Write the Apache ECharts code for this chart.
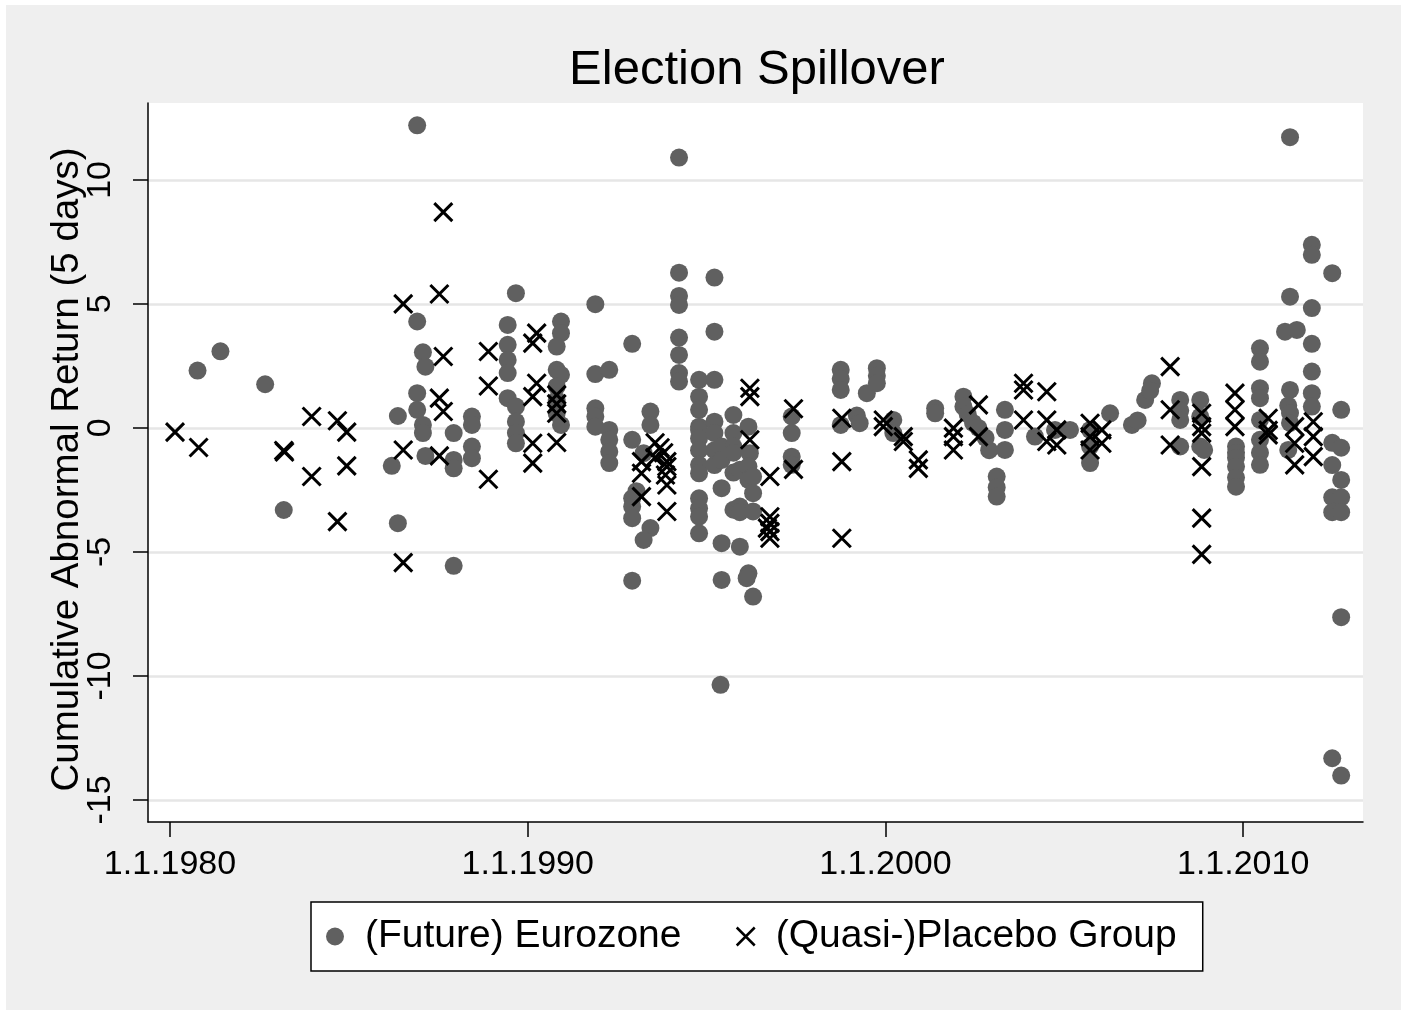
<!DOCTYPE html>
<html>
<head>
<meta charset="utf-8">
<script src="https://cdn.jsdelivr.net/npm/echarts@6/dist/echarts.min.js"></script>
<style>
  html, body { margin: 0; padding: 0; background: #ffffff; }
  #chart { position: absolute; left: 6px; top: 5px; width: 1395px; height: 1005px; }
</style>
</head>
<body>
<div id="chart"></div>
<script>
// ---- Data (decimal year of election, 5-day cumulative abnormal return) ----
const euroYear = [
  1980.77, 1981.41, 1982.66, 1983.18,
  1986.20, 1986.37, 1986.37, 1986.91, 1986.91, 1986.91, 1986.91, 1987.07, 1987.14, 1987.07, 1987.07, 1987.14,
  1987.93, 1987.93, 1987.93, 1987.93, 1988.44, 1988.44, 1988.44, 1988.44,
  1989.67, 1989.44, 1989.44, 1989.44, 1989.44, 1989.44, 1989.67, 1989.67, 1989.67, 1989.67,
  1990.93, 1990.93, 1990.81, 1990.81, 1990.93, 1990.81, 1990.81, 1990.81, 1990.93,
  1991.89, 1991.89, 1992.28, 1991.89, 1991.89, 1991.89, 1992.28, 1992.28, 1992.28, 1992.28,
  1992.92, 1992.92, 1992.92, 1992.92, 1992.92, 1992.92, 1993.43, 1993.43, 1993.24, 1993.43, 1993.24, 1993.04,
  1994.23, 1994.23, 1994.23, 1994.23, 1994.23, 1994.23, 1994.23, 1994.23,
  1995.22, 1995.22, 1995.22,
  1994.79, 1994.79, 1994.79, 1994.79, 1994.79, 1994.79, 1994.79, 1994.79, 1994.79, 1994.79, 1994.79, 1994.79, 1994.79,
  1995.22, 1995.22, 1995.22, 1995.22, 1995.42, 1995.42, 1995.42, 1995.42, 1995.42, 1995.39,
  1995.75, 1995.75, 1995.75, 1995.75, 1995.75, 1995.75, 1995.93, 1995.93, 1995.93, 1995.93,
  1996.17, 1996.21, 1996.17, 1996.17, 1996.30, 1996.30, 1996.30, 1996.17, 1996.12, 1996.30,
  1997.38, 1997.38, 1997.38, 1997.38,
  1998.75, 1998.75, 1998.75, 1998.75, 1999.20, 1999.28, 1999.48, 1999.76, 1999.76, 1999.76,
  2000.22, 2000.22, 2001.39, 2001.39,
  2002.18, 2002.18, 2002.30, 2002.45, 2002.60, 2002.80, 2002.90, 2003.11, 2003.11, 2003.11,
  2003.34, 2003.34, 2003.34, 2004.18, 2004.74, 2005.16,
  2005.72, 2005.72, 2005.72, 2006.28, 2006.89, 2007.05, 2007.26, 2007.45, 2007.40,
  2008.24, 2008.24, 2008.24, 2008.24, 2008.80, 2008.80, 2008.80, 2008.91,
  2009.80, 2009.80, 2009.80, 2009.80, 2009.80, 2009.80,
  2010.47, 2010.47, 2010.47, 2010.47, 2010.47, 2010.47, 2010.47, 2010.47,
  2011.31, 2011.31, 2011.17, 2011.50, 2011.31, 2011.26, 2011.31, 2011.31, 2011.26,
  2011.92, 2011.92, 2011.92, 2011.92, 2011.92, 2011.92, 2011.92,
  2012.49, 2012.74, 2012.49, 2012.74, 2012.49, 2012.74, 2012.49, 2012.74, 2012.49, 2012.74,
  2012.74, 2012.49, 2012.74
];
const euroCAR = [
  2.31, 3.09, 1.76, -3.31,
  -1.53, 0.48, -3.84, 12.2, 4.29, 1.40, 0.73, 3.05, 2.47, 0.12, -0.21, -1.13,
  -5.56, -0.21, -1.29, -1.63, 0.46, 0.12, -0.75, -1.22,
  5.43, 4.15, 3.35, 2.74, 2.21, 1.20, 0.86, 0.25, -0.21, -0.62,
  4.29, 3.82, 3.28, 2.34, 2.14, 1.67, 1.13, 0.59, 0.12,
  4.99, 2.17, 2.34, 0.79, 0.46, 0.05, -0.08, -0.48, -0.96, -1.42,
  3.39, -0.48, -2.84, -3.17, -3.64, -6.16, 0.66, 0.12, -1.02, -4.04, -4.52, -2.55,
  10.90, 6.26, 5.32, 4.96, 3.64, 2.94, 2.21, 1.87,
  6.06, 3.88, 1.94,
  1.94, 1.26, 0.73, 0.05, -0.08, -0.42, -0.90, -1.49, -1.83, -2.84, -3.24, -3.58, -4.25,
  0.25, -0.21, -0.90, -1.50, -0.75, -1.29, -2.43, -4.65, -6.13, -10.36,
  0.52, -0.21, -0.75, -1.00, -1.80, -3.30, -1.69, -3.17, -3.40, -4.79,
  0.05, -1.02, -1.55, -2.10, -1.96, -2.63, -3.37, -5.86, -6.06, -6.80,
  0.46, -0.21, -1.16, -1.49,
  2.34, 1.98, 1.53, 0.12, 0.50, 0.19, 1.40, 2.41, 2.10, 1.80,
  0.32, -0.21, 0.79, 0.59,
  1.26, 0.86, 0.55, 0.20, 0.00, -0.40, -0.90, -1.96, -2.40, -2.77,
  0.73, -0.08, -0.89, -0.35, -0.08, -0.08,
  -0.08, -0.75, -1.42, 0.59, 0.12, 0.30, 1.13, 1.80, 1.50,
  1.13, 0.70, 0.32, -0.75, 1.13, 0.46, -0.75, -0.89,
  -0.75, -1.00, -1.20, -1.56, -2.00, -2.37,
  3.21, 2.67, 1.60, 1.20, 0.32, -0.48, -1.00, -1.49,
  11.72, 5.29, 3.88, 3.95, 1.53, 0.90, 0.60, 0.20, -0.89,
  7.38, 6.98, 4.83, 3.39, 2.27, 1.40, 0.86,
  6.24, 0.73, -0.60, -0.80, -1.50, -2.10, -2.80, -2.80, -3.40, -3.40,
  -7.63, -13.32, -14.02
];
const placeboYear = [
  1980.14, 1980.80, 1983.18, 1983.20, 1983.96, 1983.96, 1984.68, 1984.94, 1984.94, 1984.68,
  1986.52, 1986.52, 1986.52, 1987.64, 1987.53, 1987.64, 1987.53, 1987.64, 1987.53,
  1988.90, 1988.90, 1988.90,
  1990.25, 1990.14, 1990.25, 1990.14, 1990.14, 1990.14, 1990.81, 1990.81, 1990.81, 1990.81,
  1993.56, 1993.70, 1993.80, 1993.56, 1993.18, 1993.89, 1993.89, 1993.85, 1993.18, 1993.89, 1993.18, 1993.89,
  1996.21, 1996.21, 1996.21, 1996.77, 1996.77, 1996.77, 1996.77, 1996.77, 1996.70,
  1997.43, 1997.43, 1998.78, 1998.78, 1998.78,
  1999.94, 1999.94, 2000.50, 2000.50, 2000.92, 2000.92, 2001.90, 2001.90, 2001.90, 2002.60, 2002.60,
  2003.86, 2003.86, 2003.86, 2004.51, 2004.51, 2004.51, 2004.79, 2004.79,
  2005.72, 2005.72, 2005.72, 2006.05, 2006.05,
  2007.96, 2007.96, 2007.96, 2008.84, 2008.84, 2008.84, 2008.84, 2008.84, 2008.84,
  2009.77, 2009.77, 2009.77, 2010.70, 2010.70, 2010.70,
  2011.44, 2011.44, 2011.44, 2011.96, 2011.96, 2011.96
];
const placeboCAR = [
  -0.17, -0.79, -0.91, -0.97, 0.46, -1.96, 0.29, -0.17, -1.53, -3.78,
  5.00, -0.89, -5.43, 8.70, 5.40, 2.88, 1.20, 0.66, -1.13,
  3.08, 1.69, -2.07,
  3.82, 3.42, 1.80, 1.26, -0.62, -1.42, 1.33, 0.97, 0.59, -0.59,
  -0.60, -0.80, -1.00, -1.20, -1.36, -1.36, -1.56, -1.90, -1.83, -2.30, -2.77, -3.37,
  1.60, 1.26, -0.48, -1.96, -3.58, -3.85, -4.18, -4.45, -4.04,
  0.77, -1.67, 0.39, -1.36, -4.45,
  0.32, 0.05, -0.35, -0.55, -1.29, -1.63, -0.01, -0.35, -0.89, 0.93, -0.35,
  1.80, 1.53, 0.32, 1.46, 0.32, -0.55, -0.08, -0.69,
  0.19, -0.35, -0.89, -0.08, -0.62,
  2.47, 0.73, -0.69, 0.59, 0.05, -0.21, -1.56, -3.64, -5.10,
  1.40, 0.73, 0.05, 0.39, -0.28, -0.10,
  0.05, -0.62, -1.49, 0.25, -0.35, -1.16
];
const xTickYears = [1980, 1990, 2000, 2010];
const yTickValues = [-15, -10, -5, 0, 5, 10];
const seriesNames = ['(Future) Eurozone', '(Quasi-)Placebo Group'];
const chartTitle = 'Election Spillover';
const yAxisTitle = 'Cumulative Abnormal Return (5 days)';

const zip = (xs, ys) => xs.map((x, i) => [x, ys[i]]);
const FONT = '"Liberation Sans", Arial, Helvetica, sans-serif';
const X_SYMBOL = 'path://M0,0L10,10M10,0L0,10';

const chart = echarts.init(document.getElementById('chart'), null, { renderer: 'canvas' });
chart.setOption({
  animation: false,
  backgroundColor: '#efefef',
  textStyle: { fontFamily: FONT, color: '#000' },
  graphic: [{
    type: 'text',
    x: 751, y: 65,
    style: { text: chartTitle, align: 'center', verticalAlign: 'middle', fill: '#000', font: '49px ' + FONT }
  }],
  grid: {
    left: 142, top: 98, right: 38, bottom: 188,
    show: true, backgroundColor: '#ffffff', borderWidth: 0
  },
  legend: {
    left: 305, top: 897,
    orient: 'horizontal',
    backgroundColor: '#ffffff',
    borderColor: '#000', borderWidth: 1.5, borderRadius: 0,
    padding: [15, 26, 15, 15],
    itemGap: 54,
    itemWidth: 18, itemHeight: 18,
    textStyle: { fontSize: 39, fontFamily: FONT, color: '#000', padding: [0, 0, 0, 16] },
    data: [
      { name: seriesNames[0], icon: 'circle' },
      { name: seriesNames[1], icon: X_SYMBOL,
        itemStyle: { color: 'rgba(0,0,0,0)', borderColor: '#000', borderWidth: 2.5 } }
    ]
  },
  xAxis: {
    type: 'value',
    min: 1979.385, max: 2013.35,
    axisLine: { show: true, onZero: false, lineStyle: { color: '#000', width: 1.5 } },
    axisTick: { show: true, customValues: xTickYears, length: 15, lineStyle: { color: '#000', width: 1.5 } },
    axisLabel: { customValues: xTickYears, fontSize: 34, fontFamily: FONT, color: '#000', margin: 26,
                 formatter: v => '1.1.' + Math.round(v) },
    splitLine: { show: false }
  },
  yAxis: {
    type: 'value',
    min: -15.89, max: 13.1,
    name: yAxisTitle,
    nameLocation: 'middle',
    nameGap: 61,
    nameMoveOverlap: false,
    nameTextStyle: { fontSize: 38.5, fontFamily: FONT, color: '#000', padding: [0, 14, 0, 0] },
    axisLine: { show: true, onZero: false, lineStyle: { color: '#000', width: 1.5 } },
    axisTick: { show: true, customValues: yTickValues, length: 15, lineStyle: { color: '#000', width: 1.5 } },
    axisLabel: { customValues: yTickValues, rotate: 90, fontSize: 34, fontFamily: FONT, color: '#000', margin: 30 },
    splitLine: { show: true, lineStyle: { color: '#e6e6e6', width: 2.5 } }
  },
  series: [
    {
      name: seriesNames[0],
      type: 'scatter',
      data: zip(euroYear, euroCAR),
      symbol: 'circle',
      symbolSize: 18,
      itemStyle: { color: '#606060', opacity: 1 },
      emphasis: { disabled: true }
    },
    {
      name: seriesNames[1],
      type: 'scatter',
      data: zip(placeboYear, placeboCAR),
      symbol: X_SYMBOL,
      symbolSize: 18,
      itemStyle: { color: 'rgba(0,0,0,0)', borderColor: '#000', borderWidth: 3, opacity: 1 },
      emphasis: { disabled: true }
    }
  ]
});
</script>
</body>
</html>
